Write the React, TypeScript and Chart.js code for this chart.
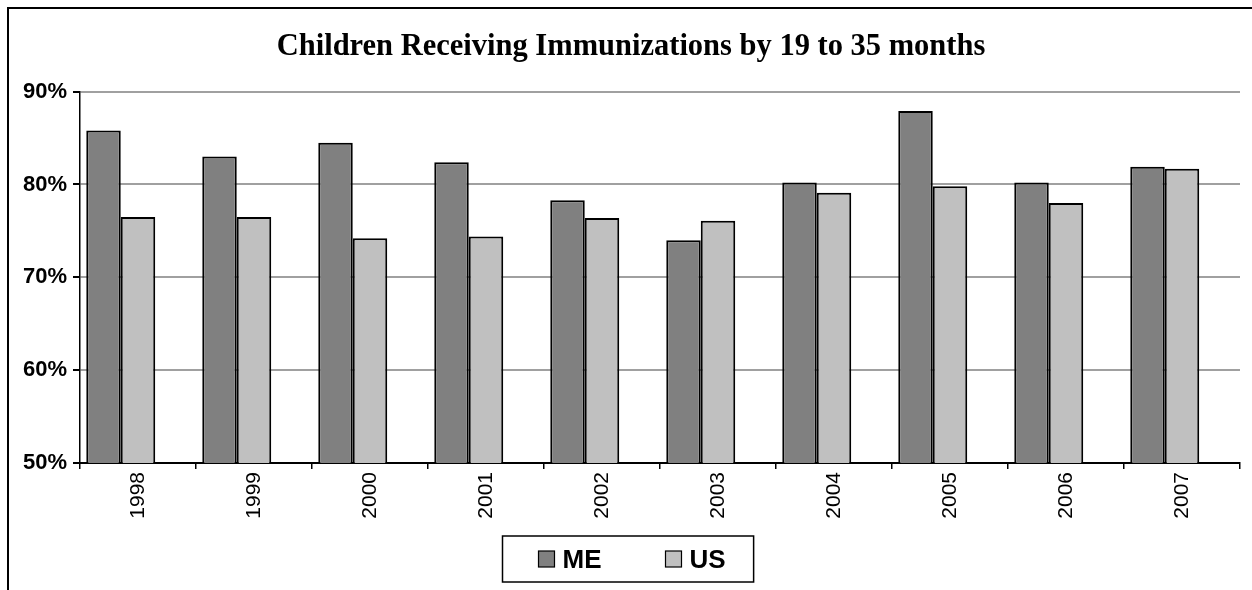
import { useEffect, useRef } from 'react';
import { Chart, registerables } from 'chart.js';

Chart.register(...registerables);

const TITLE = 'Children Receiving Immunizations by 19 to 35 months';
const YEARS = ['1998', '1999', '2000', '2001', '2002', '2003', '2004', '2005', '2006', '2007'];
const ME_VALUES = [85.8, 83.0, 84.5, 82.4, 78.3, 74.0, 80.2, 87.9, 80.2, 81.9];
const US_VALUES = [76.5, 76.5, 74.2, 74.4, 76.4, 76.1, 79.1, 79.8, 78.0, 81.7];
const SERIES_NAMES = ['ME', 'US'];
const SERIES_COLORS = ['#808080', '#c0c0c0'];
const Y_MIN = 50;
const Y_MAX = 90;
const Y_STEP = 10;

const SANS = 'Arial, "Liberation Sans", sans-serif';
const SERIF = '"Times New Roman", "Liberation Serif", serif';

const frameLegendPlugin = {
  id: 'frameLegend',
  afterDraw(chart: any) {
    const ctx = chart.ctx as CanvasRenderingContext2D;
    ctx.save();
    // outer frame
    ctx.strokeStyle = '#000';
    ctx.lineWidth = 2;
    ctx.strokeRect(8, 8, chart.width + 40, chart.height + 40);

    // legend box
    const items = chart.data.datasets.filter((d: any) => d.label);
    ctx.font = `bold 26px ${SANS}`;
    const sq = 16;
    const gap = 8;
    const between = 64;
    const padL = 36;
    const padR = 28;
    const widths = items.map((d: any) => sq + gap + ctx.measureText(d.label).width);
    const content = widths.reduce((a: number, b: number) => a + b, 0) + between * (items.length - 1);
    const boxW = content + padL + padR;
    const top = 536;
    const h = 46;
    const x0 = Math.round(chart.width / 2 + 2 - boxW / 2) + 0.5;
    ctx.lineWidth = 1.5;
    ctx.strokeStyle = '#000';
    ctx.strokeRect(x0, top, boxW, h);
    let x = x0 + padL;
    items.forEach((d: any, i: number) => {
      ctx.fillStyle = d.backgroundColor;
      ctx.fillRect(x, top + 15, sq, sq);
      ctx.lineWidth = 1.2;
      ctx.strokeStyle = '#000';
      ctx.strokeRect(x, top + 15, sq, sq);
      ctx.fillStyle = '#000';
      ctx.textBaseline = 'alphabetic';
      ctx.textAlign = 'left';
      ctx.fillText(d.label, x + sq + gap, top + 32);
      x += widths[i] + between;
    });
    ctx.restore();
  },
};

export default function App() {
  const canvasRef = useRef<HTMLCanvasElement | null>(null);

  useEffect(() => {
    if (!canvasRef.current) return;
    const barCommon = {
      borderColor: '#000',
      borderWidth: 2,
      categoryPercentage: 0.892,
      barPercentage: 1,
    };
    const chart = new Chart(canvasRef.current, {
      type: 'bar',
      data: {
        labels: YEARS,
        datasets: [
          { label: SERIES_NAMES[0], data: ME_VALUES, backgroundColor: SERIES_COLORS[0], ...barCommon },
          { label: SERIES_NAMES[1], data: US_VALUES, backgroundColor: SERIES_COLORS[1], ...barCommon },
          // empty third series slot (as in the original spreadsheet chart), holds no bars
          { label: '', data: [], backgroundColor: 'rgba(0,0,0,0)', ...barCommon },
        ],
      },
      options: {
        responsive: false,
        animation: false,
        layout: { padding: { top: 0, left: 22, right: 12, bottom: 67 } },
        plugins: {
          legend: { display: false },
          tooltip: { enabled: false },
          title: {
            display: true,
            text: TITLE,
            color: '#000',
            font: { family: SERIF, size: 30.5, weight: 'bold' },
            padding: { top: 29, bottom: 26 },
          },
        },
        scales: {
          x: {
            afterFit(scale: any) {
              scale.height = 60;
            },
            grid: {
              display: true,
              drawOnChartArea: false,
              drawTicks: true,
              tickLength: 6,
              color: '#000',
              lineWidth: 1.5,
              offset: true,
            },
            border: { display: true, color: '#000', width: 2 },
            ticks: {
              color: '#000',
              font: { family: SANS, size: 21 },
              maxRotation: 90,
              minRotation: 90,
              padding: 3,
              autoSkip: false,
            },
          },
          y: {
            min: Y_MIN,
            max: Y_MAX,
            afterFit(scale: any) {
              scale.width = 58;
            },
            grid: {
              color: '#a0a0a0',
              lineWidth: 2,
              tickColor: '#000',
              tickLength: 7,
              drawTicks: true,
            },
            border: { display: true, color: '#000', width: 1.5 },
            ticks: {
              stepSize: Y_STEP,
              color: '#000',
              padding: 6,
              font: { family: SANS, size: 22, weight: 'bold' },
              callback: (v: any) => `${v}%`,
            },
          },
        },
      },
      plugins: [frameLegendPlugin],
    } as any);
    return () => chart.destroy();
  }, []);

  return (
    <div style={{ position: 'fixed', left: 0, top: 0, width: 1252, height: 590, background: '#fff' }}>
      <canvas ref={canvasRef} width={1252} height={590} style={{ display: 'block' }} />
    </div>
  );
}
